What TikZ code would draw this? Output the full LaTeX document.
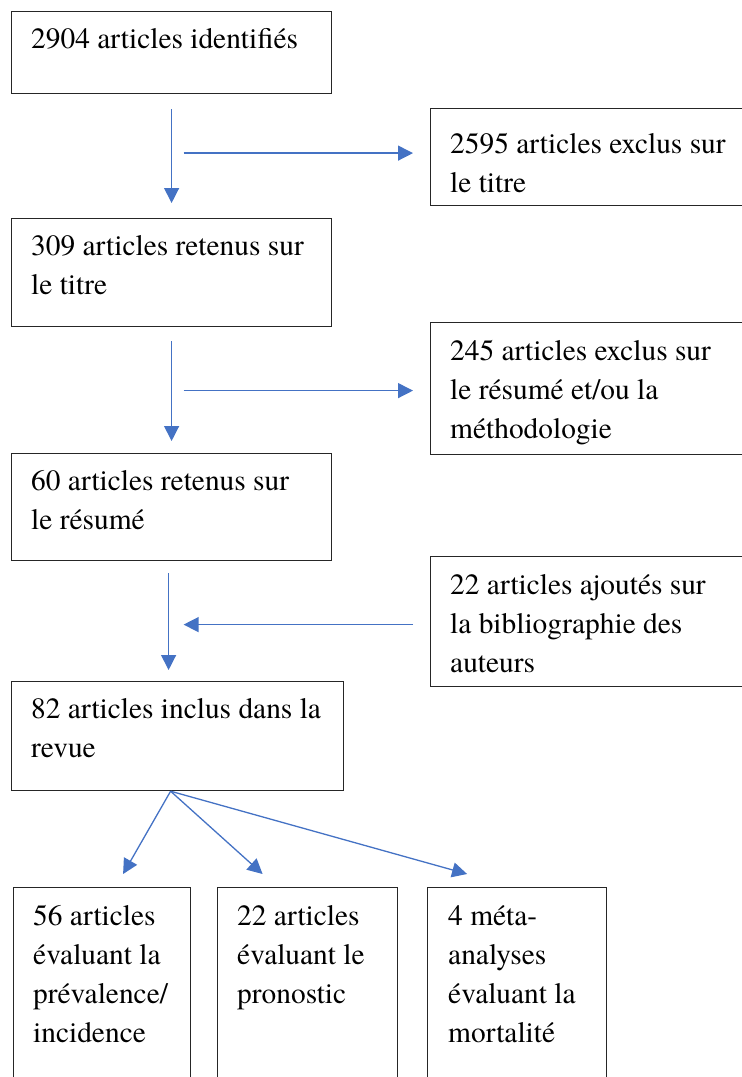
\documentclass[tikz,border=0pt]{standalone}
\usepackage{fontspec}
\setmainfont{texgyretermes-regular.otf}
\newfontfamily\flowfont{texgyretermes-regular.otf}
\usepackage{xcolor}
\usetikzlibrary{arrows.meta,positioning}
\definecolor{Flow}{HTML}{4472C4}
\definecolor{Frame}{HTML}{262626}

\begin{document}
\begin{tikzpicture}[x=1pt,y=-1pt,
  box/.style={draw=Frame,line width=1.2pt,anchor=north west,inner sep=0pt},
  txt/.style={anchor=base west,inner sep=0pt,font=\flowfont\fontsize{29.4pt}{39pt}\selectfont},
  arrow/.style={-{Triangle[length=15pt,width=15pt]},line width=1.3pt,draw=Flow}
]
\useasboundingbox (0,0) rectangle (742,1077);
\clip (0,0) rectangle (742,1077);

% left column
\node[box,minimum width=320pt,minimum height=82pt] (ident) at (11,11) {};
\node[txt] (ident-t) at ([shift={(20,37)}]ident.north west) {\parbox[t]{300pt}{2904 articles identifiés}};
\node[box,minimum width=320pt,minimum height=108pt] (titre) at (11,218) {};
\node[txt] (titre-t) at ([shift={(20,37)}]titre.north west) {\parbox[t]{300pt}{309 articles retenus sur\\le titre}};
\node[box,minimum width=320pt,minimum height=107pt] (resume) at (11,453) {};
\node[txt] (resume-t) at ([shift={(20,37)}]resume.north west) {\parbox[t]{300pt}{60 articles retenus sur\\le résumé}};
\node[box,minimum width=332pt,minimum height=109pt] (inclus) at (11,681) {};
\node[txt] (inclus-t) at ([shift={(20,37)}]inclus.north west) {\parbox[t]{310pt}{82 articles inclus dans la\\revue}};

% right column
\node[box,minimum width=320pt,minimum height=97pt] (exclA) at (430,108) {};
\node[txt] (exclA-t) at ([shift={(20,45)}]exclA.north west) {\parbox[t]{300pt}{2595 articles exclus sur\\le titre}};
\node[box,minimum width=320pt,minimum height=132pt] (exclB) at (430,322) {};
\node[txt] (exclB-t) at ([shift={(20,38)}]exclB.north west) {\parbox[t]{300pt}{245 articles exclus sur\\le résumé et/ou la\\méthodologie}};
\node[box,minimum width=320pt,minimum height=130pt] (ajout) at (430,556) {};
\node[txt] (ajout-t) at ([shift={(20,38)}]ajout.north west) {\parbox[t]{300pt}{22 articles ajoutés sur\\la bibliographie des\\auteurs}};

% bottom row
\node[box,minimum width=177pt,minimum height=210pt] (prev) at (13,887) {};
\node[txt] (prev-t) at ([shift={(20,38)}]prev.north west) {\parbox[t]{170pt}{56 articles\\évaluant la\\prévalence/\\incidence}};
\node[box,minimum width=180pt,minimum height=210pt] (prono) at (217,887) {};
\node[txt] (prono-t) at ([shift={(20,38)}]prono.north west) {\parbox[t]{170pt}{22 articles\\évaluant le\\pronostic}};
\node[box,minimum width=179pt,minimum height=210pt] (meta) at (427,887) {};
\node[txt] (meta-t) at ([shift={(21,38)}]meta.north west) {\parbox[t]{170pt}{4 méta-\\analyses\\évaluant la\\mortalité}};

% flow
\draw[arrow,shorten <=15pt,shorten >=15pt] (ident) -- (titre);
\draw[arrow] ([xshift=12pt,yshift=4pt]ident.south |- exclA.west) -- ([xshift=-17pt,yshift=4pt]exclA.west);
\draw[arrow,shorten <=14pt,shorten >=12pt] (titre) -- (resume);
\draw[arrow] ([xshift=12pt,yshift=-2pt]titre.south |- exclB.west) -- ([xshift=-17pt,yshift=-2pt]exclB.west);
\draw[arrow,shorten <=12pt,shorten >=11pt] ([xshift=-3pt]resume.south) -- ([xshift=-3pt]resume.south |- inclus.north);
\draw[arrow] ([xshift=-17pt,yshift=-3pt]ajout.west) -- ([xshift=12pt,yshift=-3pt]resume.south |- ajout.west);

% split
\coordinate (fan) at ([xshift=-7pt]inclus.south);
\coordinate (toPrev) at ([xshift=21pt,yshift=13pt]prev.north);
\coordinate (toProno) at ([xshift=-45pt,yshift=13pt]prono.north);
\coordinate (toMeta) at ([xshift=-50pt,yshift=13pt]meta.north);
\draw[arrow] (fan) -- (toPrev);
\draw[arrow] (fan) -- (toProno);
\draw[arrow] (fan) -- (toMeta);
\end{tikzpicture}
\end{document}
